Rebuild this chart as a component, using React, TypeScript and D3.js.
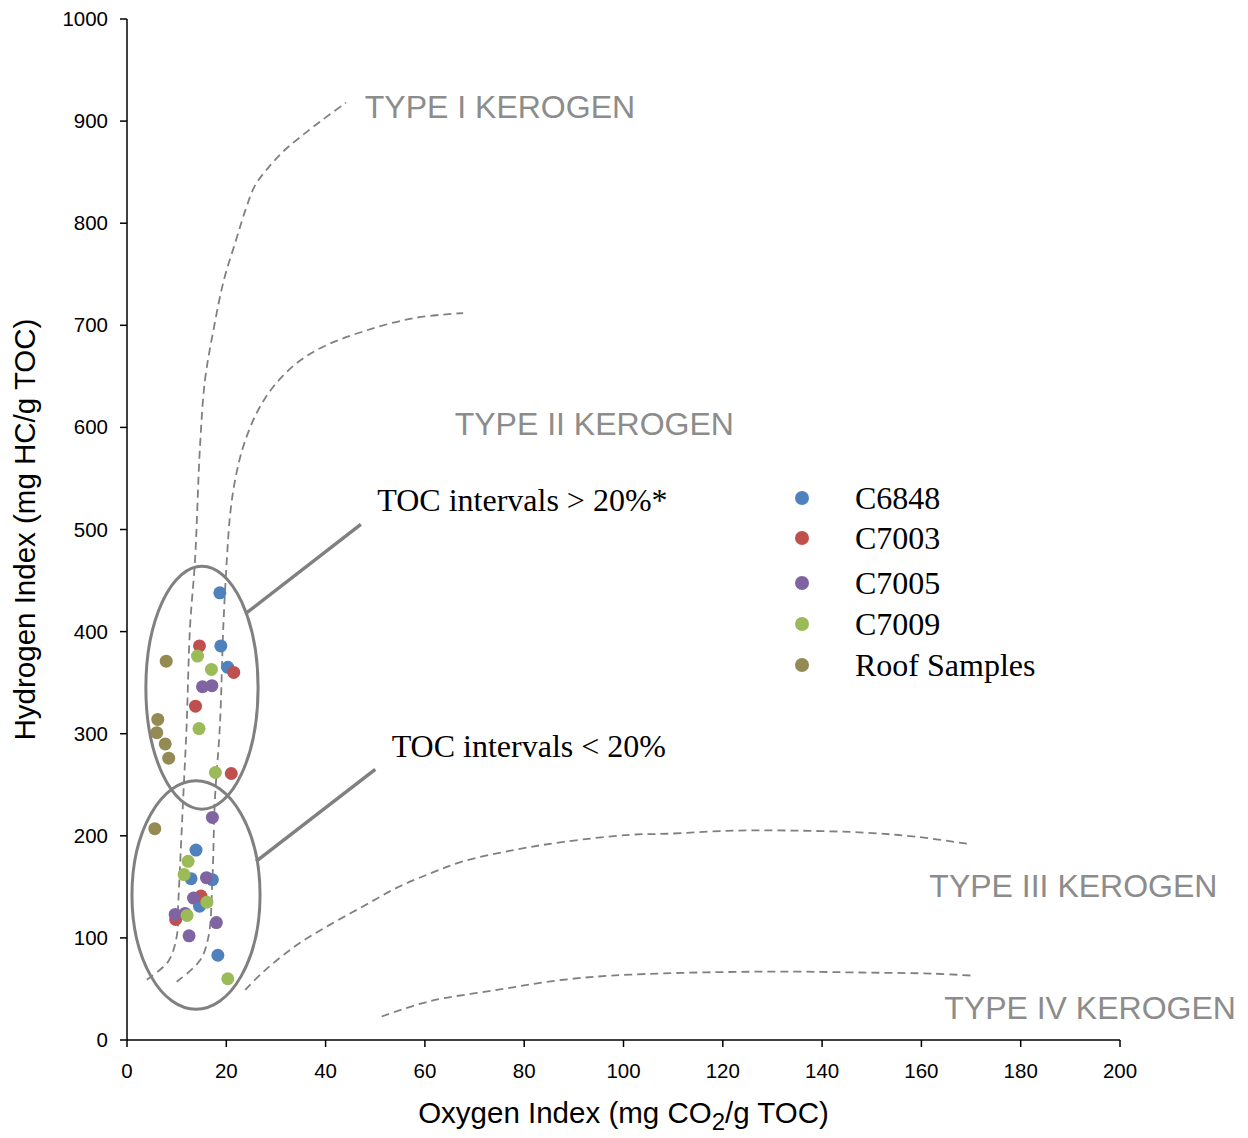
import React from "react";
import * as d3 from "d3";

// Sample series: [Oxygen Index, Hydrogen Index]
const C6848: [number, number][] = [
  [18.7, 438], [18.9, 386], [20.3, 365], [13.9, 186], [12.9, 158], [17.2, 157], [14.6, 131], [18.3, 83],
];
const C7003: [number, number][] = [
  [14.6, 386], [21.5, 360], [13.8, 327], [21.0, 261], [14.9, 141], [9.8, 118],
];
const C7005: [number, number][] = [
  [15.2, 346], [17.1, 347], [17.2, 218], [16.0, 159], [13.4, 139], [9.7, 123], [11.7, 124], [18.0, 115], [12.5, 102],
];
const C7009: [number, number][] = [
  [14.2, 376], [17.0, 363], [14.5, 305], [17.8, 262], [12.3, 175], [11.5, 162], [16.1, 135], [12.1, 122], [20.3, 60],
];
const ROOF: [number, number][] = [
  [7.9, 371], [6.2, 314], [6.0, 301], [7.7, 290], [8.4, 276], [5.6, 207],
];

const SERIES_NAMES = ["C6848", "C7003", "C7005", "C7009", "Roof Samples"];
const SERIES_COLORS = ["#4F81BD", "#C0504D", "#8064A2", "#9BBB59", "#948A54"];
const SERIES_DATA = [C6848, C7003, C7005, C7009, ROOF];

const X_TICKS = [0, 20, 40, 60, 80, 100, 120, 140, 160, 180, 200];
const Y_TICKS = [0, 100, 200, 300, 400, 500, 600, 700, 800, 900, 1000];

// Kerogen type boundary curves (OI, HI)
const TYPE_I_CURVE: [number, number][] = [
  [4.0, 59], [8.3, 77], [10.0, 101], [10.3, 131], [11.3, 235], [12.0, 307], [12.7, 405], [13.7, 470],
  [14.7, 581], [15.7, 646], [17.4, 695], [19.5, 744], [22.0, 784], [24.0, 815], [25.8, 837],
  [28.4, 854], [31.4, 870], [34.8, 884], [39.3, 901], [44.1, 918],
];
const TYPE_II_CURVE: [number, number][] = [
  [10.0, 57], [14.7, 78], [16.4, 101], [17.2, 157], [17.7, 235], [18.7, 307], [19.4, 405], [20.1, 470],
  [20.8, 516], [21.8, 549], [23.4, 581], [26.1, 614], [29.5, 640], [34.2, 663], [39.5, 679],
  [47.6, 694], [57.7, 707], [67.7, 712],
];
const TYPE_III_CURVE: [number, number][] = [
  [23.8, 49], [27.5, 67], [34.2, 93], [40.9, 113], [47.6, 131], [54.3, 149], [61.0, 163], [67.7, 175],
  [77.8, 186], [87.9, 194], [101.3, 201], [108.7, 202], [122.1, 205], [135.6, 205], [149.0, 203],
  [159.1, 199], [169.5, 192],
];
const TYPE_IV_CURVE: [number, number][] = [
  [51.3, 23], [61.0, 38], [74.5, 49], [87.9, 59], [101.3, 64], [128.8, 67], [149.0, 66], [162.4, 65], [170.5, 63],
];

const TYPE_LABELS = ["TYPE I KEROGEN", "TYPE II KEROGEN", "TYPE III KEROGEN", "TYPE IV KEROGEN"];
// label anchor positions (OI, HI)
const TYPE_LABEL_POS: [number, number][] = [[47.9, 903], [66.0, 593], [161.6, 140], [164.6, 21]];

// Sample groupings: centre (OI, HI) and radii in data units
const GROUP_ELLIPSES = [
  { cx: 15.1, cy: 345, rx: 11.3, ry: 119 },
  { cx: 13.9, cy: 142, rx: 12.9, ry: 112 },
];
const GROUP_LABELS = ["TOC intervals > 20%*", "TOC intervals < 20%"];
const GROUP_LEADERS: [[number, number], [number, number]][] = [
  [[24.0, 418], [47.1, 505]],
  [[26.0, 175], [50.0, 265]],
];
const GROUP_LABEL_POS: [number, number][] = [[50.4, 518], [53.3, 277]];

const W = 1248;
const H = 1138;
const SANS = "'Liberation Sans', Arial, Helvetica, sans-serif";
const SERIF = "'Liberation Serif', 'Times New Roman', Times, serif";
const GREY = "#808080";

export default function App() {
  const x = d3.scaleLinear().domain([0, 200]).range([127, 1120]);
  const y = d3.scaleLinear().domain([0, 1000]).range([1040, 19]);

  const curve = d3
    .line<[number, number]>()
    .x((d) => x(d[0]))
    .y((d) => y(d[1]))
    .curve(d3.curveCatmullRom.alpha(0.5));

  const curves = [TYPE_I_CURVE, TYPE_II_CURVE, TYPE_III_CURVE, TYPE_IV_CURVE];

  const legendX = 802;
  const legendY = [498, 538, 583, 624, 665];

  return (
    <div style={{ position: "absolute", left: 0, top: 0 }}>
      <svg width={W} height={H} style={{ display: "block", background: "#fff" }}>
        {/* boundary curves */}
        {curves.map((c, i) => (
          <path
            key={i}
            d={curve(c) || ""}
            fill="none"
            stroke={GREY}
            strokeWidth={1.8}
            strokeDasharray="8,5"
          />
        ))}

        {/* type labels */}
        {TYPE_LABELS.map((t, i) => (
          <text
            key={t}
            x={x(TYPE_LABEL_POS[i][0])}
            y={y(TYPE_LABEL_POS[i][1])}
            fontFamily={SANS}
            fontSize={32}
            fill="#8c8c8c"
          >
            {t}
          </text>
        ))}

        {/* axes */}
        <line x1={x(0)} x2={x(0)} y1={y(0)} y2={y(1000)} stroke="#000" strokeWidth={1.5} />
        <line x1={x(0)} x2={x(200)} y1={y(0)} y2={y(0)} stroke="#000" strokeWidth={1.5} />
        {Y_TICKS.map((t) => (
          <g key={"y" + t}>
            <line x1={x(0) - 7} x2={x(0)} y1={y(t)} y2={y(t)} stroke="#000" strokeWidth={1.5} />
            <text
              x={x(0) - 19}
              y={y(t) + 7}
              textAnchor="end"
              fontFamily={SANS}
              fontSize={20.5}
              fill="#000"
            >
              {t}
            </text>
          </g>
        ))}
        {X_TICKS.map((t) => (
          <g key={"x" + t}>
            <line x1={x(t)} x2={x(t)} y1={y(0)} y2={y(0) + 7} stroke="#000" strokeWidth={1.5} />
            <text
              x={x(t)}
              y={y(0) + 38}
              textAnchor="middle"
              fontFamily={SANS}
              fontSize={20.5}
              fill="#000"
            >
              {t}
            </text>
          </g>
        ))}

        {/* axis titles */}
        <text
          transform={`translate(35, ${(y(0) + y(1000)) / 2}) rotate(-90)`}
          textAnchor="middle"
          fontFamily={SANS}
          fontSize={29.5}
          fill="#000"
        >
          Hydrogen Index (mg HC/g TOC)
        </text>
        <text
          x={(x(0) + x(200)) / 2}
          y={1123}
          textAnchor="middle"
          fontFamily={SANS}
          fontSize={29.5}
          fill="#000"
        >
          Oxygen Index (mg CO
          <tspan fontSize={24} dy={7}>2</tspan>
          <tspan dy={-7}>/g TOC)</tspan>
        </text>

        {/* group ellipses and leaders */}
        {GROUP_ELLIPSES.map((e, i) => (
          <ellipse
            key={"e" + i}
            cx={x(e.cx)}
            cy={y(e.cy)}
            rx={x(e.rx) - x(0)}
            ry={y(0) - y(e.ry)}
            fill="none"
            stroke={GREY}
            strokeWidth={3}
          />
        ))}
        {GROUP_LEADERS.map((l, i) => (
          <line
            key={"l" + i}
            x1={x(l[0][0])}
            y1={y(l[0][1])}
            x2={x(l[1][0])}
            y2={y(l[1][1])}
            stroke={GREY}
            strokeWidth={3.5}
          />
        ))}
        {GROUP_LABELS.map((t, i) => (
          <text
            key={t}
            x={x(GROUP_LABEL_POS[i][0])}
            y={y(GROUP_LABEL_POS[i][1])}
            fontFamily={SERIF}
            fontSize={32}
            fill="#000"
          >
            {t}
          </text>
        ))}

        {/* sample points */}
        {SERIES_DATA.map((s, si) => (
          <g key={SERIES_NAMES[si]}>
            {s.map((d, j) => (
              <circle key={j} cx={x(d[0])} cy={y(d[1])} r={6.5} fill={SERIES_COLORS[si]} />
            ))}
          </g>
        ))}

        {/* legend */}
        {SERIES_NAMES.map((n, i) => (
          <g key={"lg" + n}>
            <circle cx={legendX} cy={legendY[i]} r={7} fill={SERIES_COLORS[i]} />
            <text x={855} y={legendY[i] + 10.5} fontFamily={SERIF} fontSize={32} fill="#000">
              {n}
            </text>
          </g>
        ))}
      </svg>
    </div>
  );
}
